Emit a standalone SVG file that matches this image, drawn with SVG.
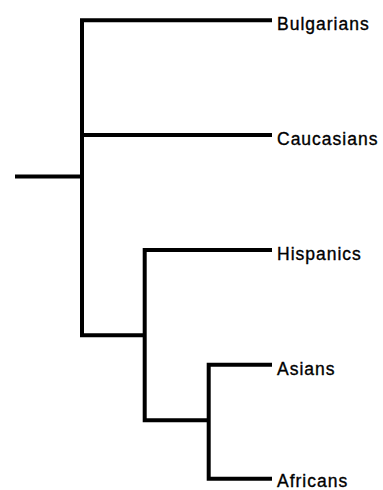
<svg xmlns="http://www.w3.org/2000/svg" width="383" height="490" viewBox="0 0 383 490">
  <style>
    .edge { fill: none; stroke: #000; stroke-width: 4; stroke-linejoin: miter; stroke-linecap: butt; }
    .label { font-family: "Liberation Sans", Arial, sans-serif; font-size: 17.5px; letter-spacing: 1px; fill: #000; stroke: #000; stroke-width: 0.35; }
  </style>
  <rect width="383" height="490" fill="#fff"/>

  <!-- tree branches -->
  <g id="connectors">
    <path class="edge" d="M15,176.5 H82"/>
    <path class="edge" d="M272,20.3 H82 V335.3 H144.7"/>
    <path class="edge" d="M82,135 H272"/>
    <path class="edge" d="M272,250 H144.7 V420.3 H208.7"/>
    <path class="edge" d="M272,364.7 H208.7 V478.7 H272"/>
  </g>

  <!-- leaf labels -->
  <g id="bulgarians"><text class="label" x="277" y="30">Bulgarians</text></g>
  <g id="caucasians"><text class="label" x="277" y="145">Caucasians</text></g>
  <g id="hispanics"><text class="label" x="277" y="260">Hispanics</text></g>
  <g id="asians"><text class="label" x="277" y="374.5">Asians</text></g>
  <g id="africans"><text class="label" x="277" y="486.5">Africans</text></g>
</svg>
